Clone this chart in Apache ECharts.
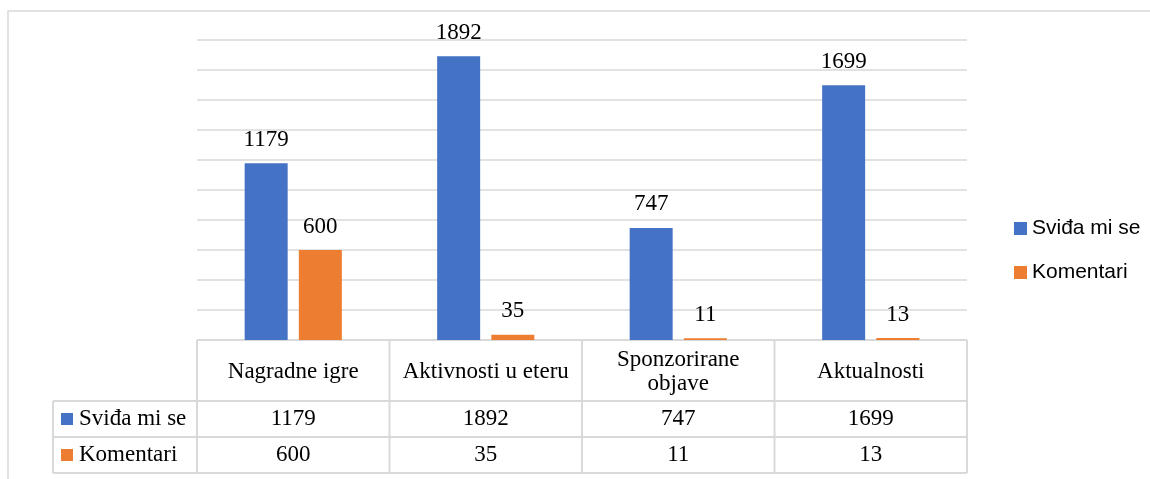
<!DOCTYPE html>
<html>
<head>
<meta charset="utf-8">
<script src="https://cdn.jsdelivr.net/npm/echarts@6/dist/echarts.min.js"></script>
<style>
  html, body { margin: 0; padding: 0; background: #fff; }
  #chart { width: 1150px; height: 479px; }
</style>
</head>
<body>
<div id="chart"></div>
<script>
// podaci
const categories = ['Nagradne igre', 'Aktivnosti u eteru', 'Sponzorirane objave', 'Aktualnosti'];
const headerLabels = ['Nagradne igre', 'Aktivnosti u eteru', 'Sponzorirane\nobjave', 'Aktualnosti'];
const seriesNames = ['Sviđa mi se', 'Komentari'];
const likes = [1179, 1892, 747, 1699];
const comments = [600, 35, 11, 13];
const colors = ['#4472C4', '#ED7D31'];

const serif = '"Liberation Serif", "DejaVu Serif", serif';
const sans = '"Liberation Sans", Arial, sans-serif';
const lineColor = '#d9d9d9';

const chart = echarts.init(document.getElementById('chart'));

const barLabel = {
  show: true,
  position: 'top',
  distance: 12,
  color: '#000',
  fontFamily: serif,
  fontSize: 23,
};

chart.setOption({
  animation: false,
  color: colors,
  grid: { left: 197, right: 183, top: 40, bottom: 139 },
  legend: {
    orient: 'vertical',
    left: 1009,
    top: 213,
    itemWidth: 13,
    itemHeight: 13,
    itemGap: 23,
    icon: 'rect',
    textStyle: { fontFamily: sans, fontSize: 21, color: '#000' },
    data: seriesNames,
  },
  xAxis: {
    type: 'category',
    data: categories,
    axisLine: { show: false },
    axisTick: { show: false },
    axisLabel: { show: false },
  },
  yAxis: {
    type: 'value',
    min: 0,
    max: 2000,
    interval: 200,
    axisLabel: { show: false },
    axisLine: { show: false },
    axisTick: { show: false },
    splitLine: { lineStyle: { color: lineColor, width: 1.5 } },
  },
  series: [
    { name: seriesNames[0], type: 'bar', data: likes, barWidth: 43, barGap: '26%', label: barLabel },
    { name: seriesNames[1], type: 'bar', data: comments, barWidth: 43, barGap: '26%', label: barLabel },
  ],
});

// tablica podataka ispod grafa
function drawTable() {
  const centers = categories.map((c) => chart.convertToPixel({ xAxisIndex: 0 }, c));
  const band = centers[1] - centers[0];
  const x0 = centers[0] - band / 2;
  const x1 = centers[centers.length - 1] + band / 2;
  const yTop = chart.convertToPixel({ yAxisIndex: 0 }, 0);
  const yRow1 = yTop + 61;
  const yRow2 = yRow1 + 36;
  const yBot = yRow2 + 36;
  const keyLeft = 53;

  const els = [];
  const line = (xa, ya, xb, yb) => els.push({
    type: 'line',
    shape: { x1: xa, y1: ya, x2: xb, y2: yb },
    style: { stroke: lineColor, lineWidth: 2 },
    silent: true,
  });
  const text = (t, x, y, align, font) => els.push({
    type: 'text',
    style: {
      text: t, x: x, y: y, align: align || 'center', verticalAlign: 'middle',
      fontFamily: font || serif, fontSize: 23, fill: '#000', lineHeight: 24,
    },
    silent: true,
  });

  // okvir
  els.push({
    type: 'rect',
    shape: { x: 8, y: 11, width: 1300, height: 600 },
    style: { fill: 'none', stroke: lineColor, lineWidth: 1.5 },
    silent: true,
  });

  line(x0, yTop, x1, yTop);
  [yRow1, yRow2, yBot].forEach((y) => line(keyLeft, y, x1, y));
  line(keyLeft, yRow1, keyLeft, yBot);
  for (let i = 0; i <= categories.length; i++) {
    const x = x0 + i * band;
    line(x, yTop, x, yBot);
  }

  headerLabels.forEach((h, i) => text(h, centers[i], (yTop + yRow1) / 2 + 1));
  likes.forEach((v, i) => text(String(v), centers[i], (yRow1 + yRow2) / 2));
  comments.forEach((v, i) => text(String(v), centers[i], (yRow2 + yBot) / 2));

  [yRow1, yRow2].forEach((y, k) => {
    els.push({
      type: 'rect',
      shape: { x: 61, y: y + 12, width: 12, height: 12 },
      style: { fill: colors[k] },
      silent: true,
    });
    text(seriesNames[k], 79, y + 18, 'left');
  });

  chart.setOption({ graphic: { elements: els } });
}
drawTable();
</script>
</body>
</html>
